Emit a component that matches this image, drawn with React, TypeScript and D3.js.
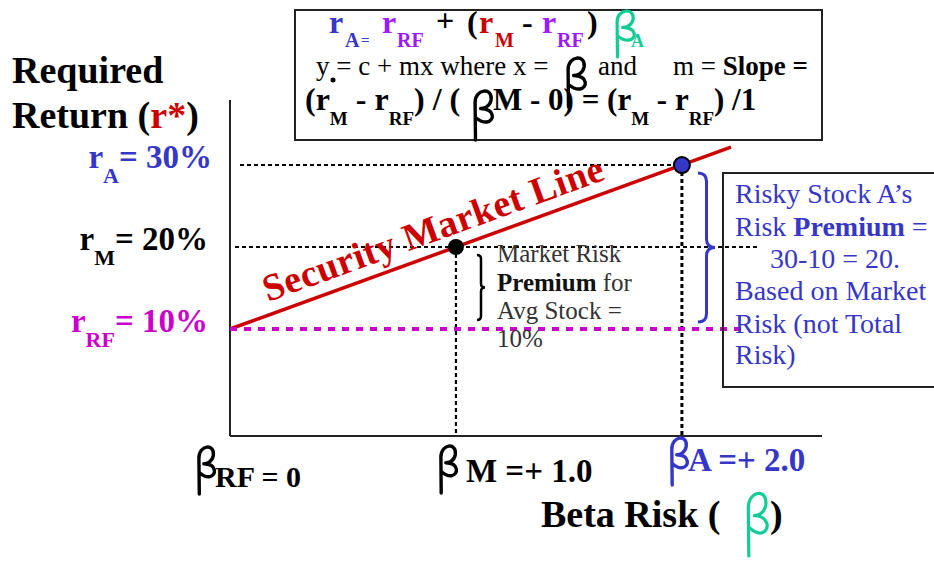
import React from 'react';
import * as d3 from 'd3';

// ---- data ----
const betaPoints = [0, 1, 2];            // beta of RF, Market, Stock A
const returnPoints = [10, 20, 30];       // required return (%) of RF, Market, Stock A
const smlBetaExtent = [0, 2.217];        // extent of the drawn SML
const xDomain = [0, 2.62];
const yDomain = [-3.05, 37.93];
const yLabelSubs = ['RF', 'M', 'A'];
const yLabelValues = ['= 10%', '= 20%', '= 30%'];
const xLabelTexts = ['RF = 0', 'M =+ 1.0', 'A =+ 2.0'];
const marketNote = ['Market Risk', 'Premium', ' for', 'Avg Stock =', '10%'];
const stockNote = ["Risky Stock A\u2019s", 'Risk ', 'Premium', ' =', '30-10 = 20.', 'Based on Market', 'Risk (not Total', 'Risk)'];

// ---- styles ----
const SERIF = '"Liberation Serif", "Times New Roman", serif';
const BLUE = '#3636c8';
const PURPLE = '#9a1cff';
const RED = '#cc0000';
const MAGENTA = '#cc00cc';
const GREEN = '#12cc96';

const W = 934, H = 563;
const x = d3.scaleLinear().domain(xDomain).range([230, 822]);
const y = d3.scaleLinear().domain(yDomain).range([436, 100]);

const yLabelColors = [MAGENTA, '#000', BLUE];
const yLabelAnchorX = [208, 208, 212];
const xLabelColors = ['#000', '#000', BLUE];
const xLabelBetaOffset = [-33, -17, -12];
const xLabelBetaTop = [446, 445, 437];
const xLabelTextOffset = [-15, 10, 6];
const xLabelBaseline = [487, 482, 471];
const xLabelSize = [30, 33, 33];

function betaD(bx: number, by: number, w: number, h: number) {
  const p = (u: number, v: number) => `${(bx + u * w).toFixed(1)},${(by + v * h).toFixed(1)}`;
  return `M${p(0.12, 1)} L${p(0.1, 0.25)} C${p(0.1, -0.03)} ${p(0.95, -0.06)} ${p(0.86, 0.2)} C${p(0.8, 0.34)} ${p(0.5, 0.37)} ${p(0.36, 0.37)} C${p(1.08, 0.38)} ${p(1.02, 0.62)} ${p(0.66, 0.64)} C${p(0.46, 0.65)} ${p(0.26, 0.6)} ${p(0.12, 0.55)}`;
}

function Beta({ bx, by, w, h, color, sw = 3 }: any) {
  return <path d={betaD(bx, by, w, h)} fill="none" stroke={color} strokeWidth={sw} strokeLinecap="round" strokeLinejoin="round" />;
}

function braceD(bx: number, y1: number, y2: number, w: number) {
  const m = (y1 + y2) / 2;
  const h = w / 2;
  return `M${bx},${y1} Q${bx + h},${y1} ${bx + h},${y1 + h} L${bx + h},${m - h} Q${bx + h},${m} ${bx + w},${m} Q${bx + h},${m} ${bx + h},${m + h} L${bx + h},${y2 - h} Q${bx + h},${y2} ${bx},${y2}`;
}

export default function App() {
  const smlLine = d3.line<number>().x((b) => x(b)).y((b) => y(returnPoints[0] + b * (returnPoints[1] - returnPoints[0])));
  const [b0, bM, bA] = betaPoints;
  const [rRF, rM, rA] = returnPoints;
  const angle = (Math.atan2(y(rRF) - y(rRF + smlBetaExtent[1] * (rM - rRF)), x(smlBetaExtent[1]) - x(0)) * 180) / Math.PI;

  return (
    <svg width={W} height={H} style={{ position: 'absolute', left: 0, top: 0, background: '#fff' }} fontFamily={SERIF}>
      <rect width={W} height={H} fill="#fff" />

      {/* top formula box */}
      <rect x={295} y={10} width={527} height={130} fill="#fff" stroke="#222" strokeWidth={2} />
      <g fontWeight="bold" fontSize={32}>
        <text x={329} y={33} fill={BLUE}>r</text>
        <text x={345} y={47} fill={BLUE} fontSize={20}>A</text>
        <text x={361} y={45} fill={BLUE} fontSize={15}>=</text>
        <text x={382} y={33} fill={PURPLE}>r</text>
        <text x={397} y={47} fill={PURPLE} fontSize={20}>RF</text>
        <text x={436} y={31} fill="#000">+</text>
        <text x={467} y={33} fill="#000">(</text>
        <text x={479} y={33} fill={RED}>r</text>
        <text x={495} y={47} fill={RED} fontSize={20}>M</text>
        <text x={522} y={33} fill="#000">-</text>
        <text x={542} y={33} fill={PURPLE}>r</text>
        <text x={557} y={47} fill={PURPLE} fontSize={20}>RF</text>
        <text x={587} y={33} fill="#000">)</text>
        <text x={631} y={47} fill={GREEN} fontSize={18}>A</text>
      </g>
      <Beta bx={615} by={10} w={21} h={47} color={GREEN} sw={3.2} />
      <text x={316} y={75} fontSize={27} fill="#000">y = c + mx where x =</text>
      <circle cx={333} cy={80} r={2.5} fill="#000" />
      <text x={598} y={75} fontSize={27} fill="#000">and</text>
      <text x={673} y={75} fontSize={27} fill="#000">m = <tspan fontWeight="bold">Slope =</tspan></text>
      <g fontWeight="bold" fontSize={32} fill="#000">
        <text x={305} y={110}>(r<tspan dy={15} fontSize={19}>M</tspan><tspan dy={-15}> - r</tspan><tspan dy={15} fontSize={19}>RF</tspan><tspan dy={-15}>) / ( </tspan></text>
        <text x={493} y={110} fontSize={31}>M - 0) = (r<tspan dy={15} fontSize={19}>M</tspan><tspan dy={-15}> - r</tspan><tspan dy={15} fontSize={19}>RF</tspan><tspan dy={-15}>) /1</tspan></text>
      </g>
      <Beta bx={566} by={57} w={21} h={50} color="#000" sw={3.4} />
      <Beta bx={473} by={90} w={21} h={50} color="#000" sw={3.4} />

      {/* y axis title */}
      <g fontWeight="bold" fontSize={38} fill="#000">
        <text x={12} y={83}>Required</text>
        <text x={12} y={128}>Return (<tspan fill={RED}>r*</tspan>)</text>
      </g>

      {/* y labels */}
      {returnPoints.map((r, i) => (
        <text key={'yl' + i} x={yLabelAnchorX[i]} y={y(r) + 3} textAnchor="end" fontSize={33} fontWeight="bold" fill={yLabelColors[i]}>
          r<tspan dy={15} fontSize={22}>{yLabelSubs[i]}</tspan><tspan dy={-15}>{yLabelValues[i]}</tspan>
        </text>
      ))}

      {/* axes */}
      <line x1={x(0)} x2={x(0)} y1={y(yDomain[1])} y2={y(yDomain[0])} stroke="#222" strokeWidth={2} />
      <line x1={x(0)} x2={x(xDomain[1])} y1={y(yDomain[0])} y2={y(yDomain[0])} stroke="#222" strokeWidth={2} />

      {/* dotted guides */}
      <g stroke="#000" strokeWidth={2.2} strokeDasharray="4 3" fill="none">
        <line x1={x(0) + 10} x2={x(bA)} y1={y(rA)} y2={y(rA)} />
        <line x1={x(0) + 5} x2={757} y1={y(rM)} y2={y(rM)} />
        <line x1={x(bM)} x2={x(bM)} y1={y(rM)} y2={y(yDomain[0])} />
        <line x1={x(bA)} x2={x(bA)} y1={y(rA)} y2={y(yDomain[0])} strokeWidth={3} />
      </g>

      {/* SML */}
      <path d={smlLine(smlBetaExtent) || ''} fill="none" stroke={RED} strokeWidth={3.5} />
      <text x={268} y={302} transform={`rotate(${-angle} 268 302)`} fontSize={38} fontWeight="bold" fill={RED} textLength={360} lengthAdjust="spacing">Security Market Line</text>

      {/* risk-free dashed */}
      <line x1={x(b0)} x2={748} y1={y(rRF)} y2={y(rRF)} stroke={MAGENTA} strokeWidth={4} strokeDasharray="7 7" />

      {/* points */}
      <circle cx={x(bM)} cy={y(rM)} r={8} fill="#000" />
      <circle cx={x(bA)} cy={y(rA)} r={8} fill={BLUE} stroke="#000" strokeWidth={2} />

      {/* market note */}
      <path d={braceD(477, 255, 320, 8)} fill="none" stroke="#000" strokeWidth={2.5} />
      <g fontSize={25} fill="#333">
        <text x={497} y={262}>{marketNote[0]}</text>
        <text x={497} y={291}><tspan fontWeight="bold" fill="#111">{marketNote[1]}</tspan>{marketNote[2]}</text>
        <text x={497} y={319}>{marketNote[3]}</text>
        <text x={497} y={347}>{marketNote[4]}</text>
      </g>

      {/* stock A note */}
      <path d={braceD(698, 173, 322, 17)} fill="none" stroke={BLUE} strokeWidth={3} />
      <rect x={723} y={173} width={230} height={214} fill="none" stroke="#222" strokeWidth={2} />
      <g fontSize={28} fill={BLUE}>
        <text x={735} y={203}>{stockNote[0]}</text>
        <text x={735} y={236}>{stockNote[1]}<tspan fontWeight="bold">{stockNote[2]}</tspan>{stockNote[3]}</text>
        <text x={770} y={268}>{stockNote[4]}</text>
        <text x={735} y={300}>{stockNote[5]}</text>
        <text x={735} y={333}>{stockNote[6]}</text>
        <text x={735} y={364}>{stockNote[7]}</text>
      </g>

      {/* x labels */}
      {betaPoints.map((b, i) => (
        <g key={'xl' + i}>
          <Beta bx={x(b) + xLabelBetaOffset[i]} by={xLabelBetaTop[i]} w={19} h={48} color={xLabelColors[i]} sw={3.4} />
          <text x={x(b) + xLabelTextOffset[i]} y={xLabelBaseline[i]} fontSize={xLabelSize[i]} fontWeight="bold" fill={xLabelColors[i]}>{xLabelTexts[i]}</text>
        </g>
      ))}

      {/* x axis title */}
      <text x={541} y={527} fontSize={38} fontWeight="bold" fill="#000">Beta Risk (</text>
      <Beta bx={746} by={492} w={23} h={64} color={GREEN} sw={3.2} />
      <text x={770} y={527} fontSize={38} fontWeight="bold" fill="#000">)</text>
    </svg>
  );
}
